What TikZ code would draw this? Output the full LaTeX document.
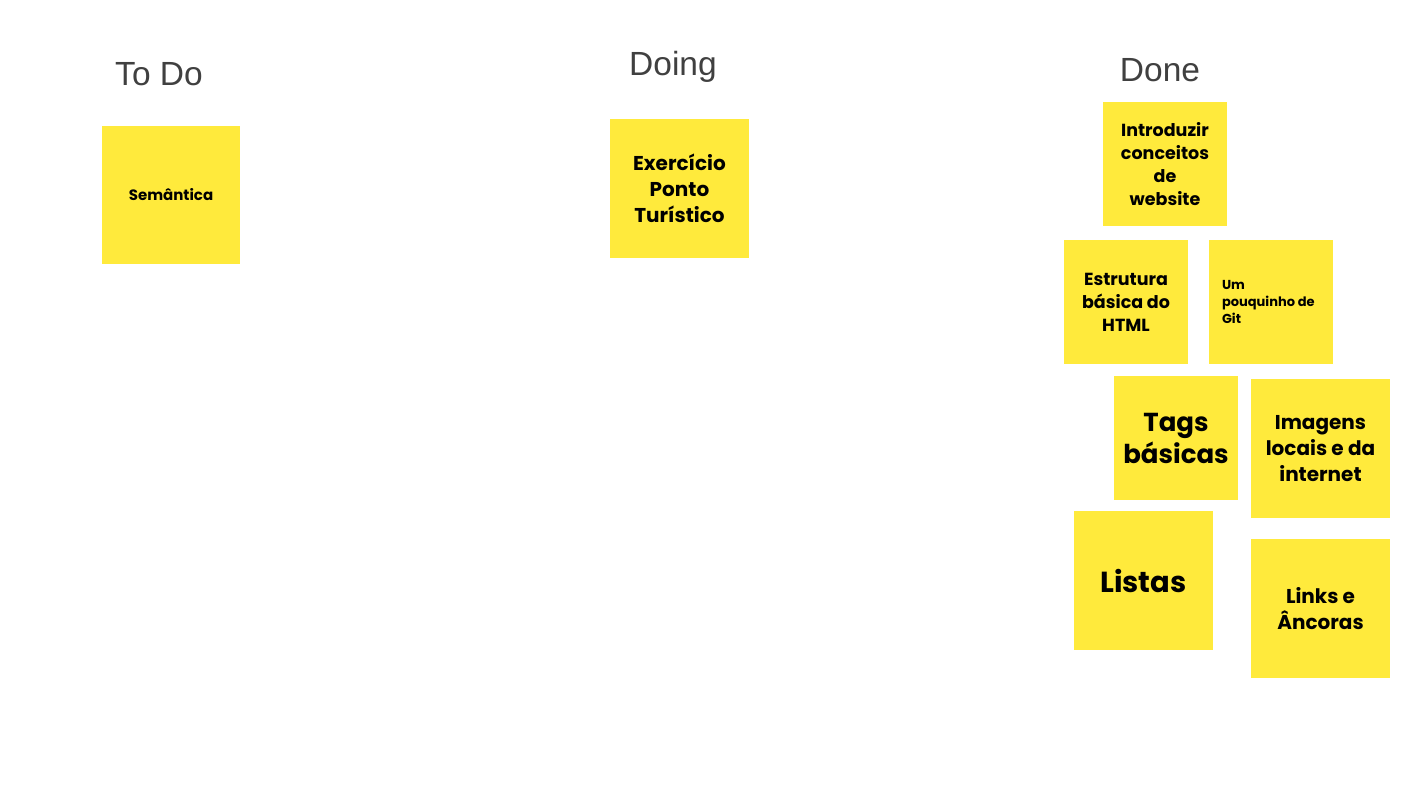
\documentclass[tikz,border=0pt]{standalone}
\usepackage{fontspec}
\setmainfont{Liberation Sans}
\newfontfamily\notefont{Poppins}
\definecolor{notey}{HTML}{FFEA3C}
\definecolor{headc}{HTML}{404040}
\begin{document}
\begin{tikzpicture}[x=1pt,y=-1pt,
  note/.style={fill=notey,draw=none,inner sep=0pt,align=center,text=black,
    font=\notefont\bfseries},
  head/.style={text=headc,inner sep=0pt,font=\fontsize{33.5}{38}\selectfont}]
\useasboundingbox[fill=white] (0,0) rectangle (1422,800);

% column titles
\node[head] (todo) at (159,74) {To Do};
\node[head] (doing) at (673,67) {Doing};
\node[head] (done) at (1160,70) {Done};

% To Do
\node[note,minimum width=138pt,minimum height=138pt,
  font=\notefont\bfseries\fontsize{15}{19}\selectfont] (sem) at (171,195) {Semântica};

% Doing
\node[note,minimum width=139pt,minimum height=139pt,
  font=\notefont\bfseries\fontsize{20}{26}\selectfont] (ex) at (679.5,188.5)
  {Exercício\\Ponto\\Turístico};

% Done
\node[note,minimum width=124pt,minimum height=124pt,
  font=\notefont\bfseries\fontsize{17.5}{23}\selectfont] (intro) at (1165,164)
  {Introduzir\\conceitos\\de\\website};
\node[note,minimum width=124pt,minimum height=124pt,
  font=\notefont\bfseries\fontsize{17.5}{23}\selectfont] (estr) at (1126,302)
  {Estrutura\\básica do\\HTML};
\node[fill=notey,minimum width=124pt,minimum height=124pt,inner sep=0pt] (git) at (1271,302) {};
\node[anchor=west,align=left,inner sep=0pt,
  font=\notefont\bfseries\fontsize{13}{17}\selectfont] (gittext) at ([xshift=13pt]git.west)
  {Um\\pouquinho de\\Git};
\node[note,minimum width=124pt,minimum height=124pt,
  font=\notefont\bfseries\fontsize{26}{32}\selectfont] (tags) at (1176,438)
  {Tags\\básicas};
\node[note,minimum width=139pt,minimum height=139pt,
  font=\notefont\bfseries\fontsize{20}{26}\selectfont] (img) at (1320.5,448.5)
  {Imagens\\locais e da\\internet};
\node[note,minimum width=139pt,minimum height=139pt,
  font=\notefont\bfseries\fontsize{29}{34}\selectfont] (listas) at (1143.5,580.5)
  {Listas};
\node[note,minimum width=139pt,minimum height=139pt,
  font=\notefont\bfseries\fontsize{20}{26}\selectfont] (links) at (1320.5,608.5)
  {Links e\\Âncoras};
\end{tikzpicture}
\end{document}
